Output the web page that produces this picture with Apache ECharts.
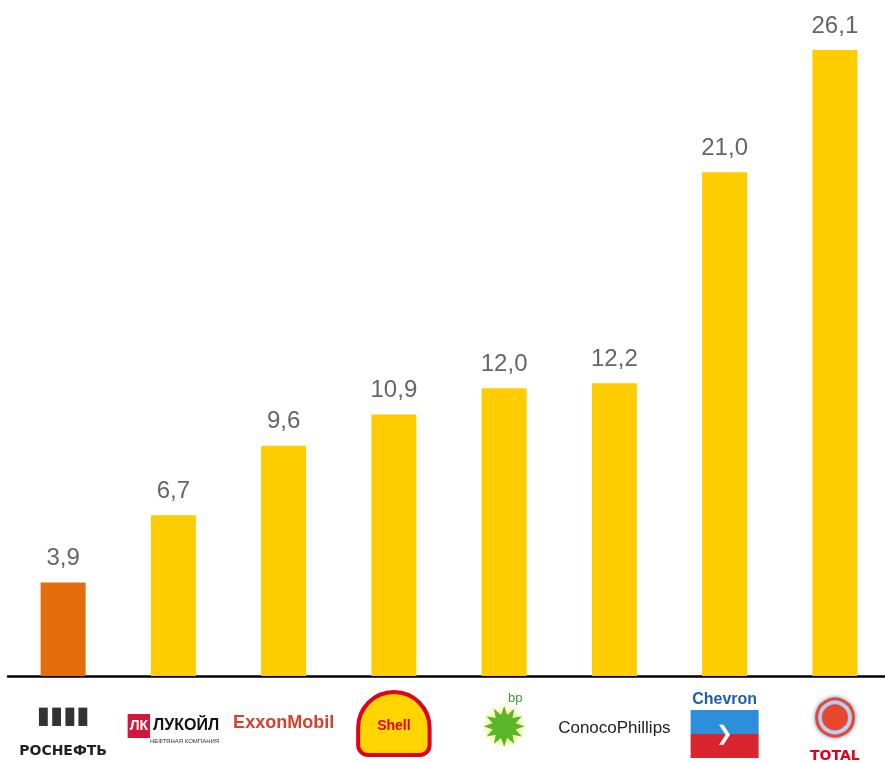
<!DOCTYPE html>
<html><head><meta charset="utf-8">
<script src="https://cdn.jsdelivr.net/npm/echarts@6/dist/echarts.min.js"></script>
<style>html,body{margin:0;padding:0;background:#fff;overflow:hidden;width:885px;height:763px}#c{width:890px;height:763px}</style>
</head><body><div id="c"></div>
<script>
const companies = ['Роснефть','Лукойл','ExxonMobil','Shell','BP','ConocoPhillips','Chevron','Total'];
const values = [3.9, 6.7, 9.6, 10.9, 12.0, 12.2, 21.0, 26.1];
const barColors = ['#E46C0A','#FFCC00','#FFCC00','#FFCC00','#FFCC00','#FFCC00','#FFCC00','#FFCC00'];

const logoText = {
  'Роснефть': '{s8| }\n{rsym|▮▮▮▮}\n{ros|РОСНЕФТЬ}',
  'Лукойл': '{s24| }\n{lkbox|ЛК}{lk|ЛУКОЙЛ}\n{lksub|НЕФТЯНАЯ КОМПАНИЯ}',
  'ExxonMobil': '{s24| }\n{xom|ExxonMobil}',
  'Shell': '{s4| }\n{shell|Shell}',
  'BP': '{bpt|bp}\n{bp|✹}',
  'ConocoPhillips': '{s30| }\n{cop|ConocoPhillips}',
  'Chevron': '{chv|Chevron}\n{chvb|❯}',
  'Total': '{tsym|◉}\n{tot|TOTAL}'
};

const chart = echarts.init(document.getElementById('c'));
chart.setOption({
  animation: false,
  grid: { left: 8, right: 0, top: 4.4, bottom: 86, containLabel: false },
  xAxis: {
    type: 'category',
    data: companies,
    axisLine: { show: true, lineStyle: { color: '#000', width: 2.5 } },
    axisTick: { show: false },
    axisLabel: {
      interval: 0,
      margin: 14,
      formatter: v => logoText[v],
      rich: {
        s4: { fontSize: 2, lineHeight: 4 },
        s8: { fontSize: 2, lineHeight: 8 },
        s24: { fontSize: 2, lineHeight: 24 },
        s30: { fontSize: 2, lineHeight: 30 },
        rsym: { color: '#333', fontSize: 24, fontWeight: 'bold', lineHeight: 38, fontFamily: 'DejaVu Sans' },
        ros: { color: '#222', fontSize: 14, fontWeight: 'bold', fontFamily: 'DejaVu Sans', lineHeight: 30 },
        lkbox: { color: '#fff', backgroundColor: '#d4163c', fontSize: 14, fontWeight: 'bold', padding: [5,2,5,2], fontFamily:'Liberation Sans' },
        lk: { color: '#111', fontSize: 16, fontWeight: 'bold', fontFamily: 'Liberation Sans', padding: [0,0,0,3] },
        lksub: { color: '#333', fontSize: 6, fontFamily: 'Liberation Sans', align: 'right' },
        xom: { color: '#d8402b', fontSize: 18, fontWeight: 'bold', fontFamily: 'Liberation Sans' },
        shell: { color: '#e3001b', backgroundColor: '#FFD500', borderColor: '#e3001b', borderWidth: 4, borderRadius: [36,36,8,8], fontSize: 14, fontWeight: 'bold', padding: [25,17,20,17], fontFamily: 'Liberation Sans' },
        bpt: { color: '#3b9a2a', fontSize: 13, fontFamily: 'Liberation Sans', lineHeight: 16, padding: [0,0,0,22] },
        bp: { color: '#5ab52a', fontSize: 54, lineHeight: 52, fontFamily: 'DejaVu Sans', textShadowColor:'#e8f54a', textShadowBlur: 8 },
        cop: { color: '#222', fontSize: 17, fontFamily: 'Liberation Sans' },
        chv: { color: '#1d5fae', fontSize: 16, fontWeight: 'bold', fontFamily: 'Liberation Sans', lineHeight: 20 },
        chvb: { color: '#fff', backgroundColor: {type:'linear',x:0,y:0,x2:0,y2:1,colorStops:[{offset:0,color:'#2d8fd9'},{offset:0.5,color:'#2d8fd9'},{offset:0.5,color:'#d9262e'},{offset:1,color:'#d9262e'}]}, fontSize: 20, width: 68, height: 48, align: 'center' },
        tsym: { color: '#e8472b', fontSize: 52, lineHeight: 54, fontFamily: 'DejaVu Sans', textShadowColor: '#3f6fd0', textShadowBlur: 4 },
        tot: { color: '#e3001b', fontSize: 14, fontWeight: 'bold', fontFamily: 'DejaVu Sans', lineHeight: 24 }
      }
    }
  },
  yAxis: { type: 'value', min: 0, max: 28, show: false, splitLine: { show: false } },
  series: [{
    type: 'bar',
    data: values.map((v, i) => ({ value: v, itemStyle: { color: barColors[i] } })),
    barWidth: 45,
    label: {
      show: true,
      position: 'top',
      distance: 12,
      color: '#666',
      fontSize: 24,
      fontFamily: 'Liberation Sans',
      formatter: p => p.value.toFixed(1).replace('.', ',')
    }
  }]
});
</script></body></html>
